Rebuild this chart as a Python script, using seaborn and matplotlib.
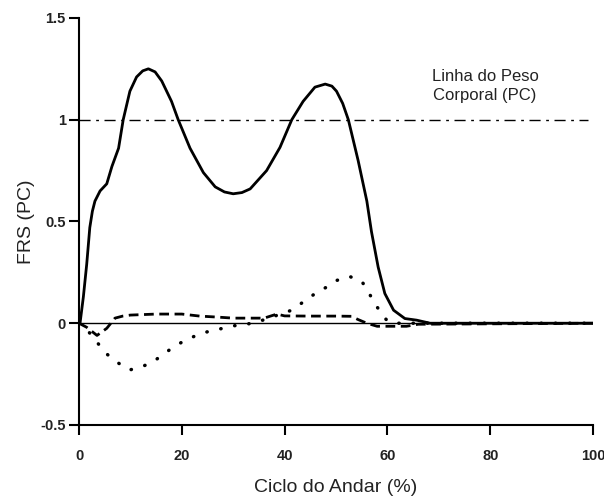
import numpy as np
import pandas as pd
import matplotlib
matplotlib.use("Agg")
import matplotlib.pyplot as plt
import seaborn as sns

# Vertical force (solid)
vert_x = [0, 0.2, 0.85, 1.5, 2.1, 2.6, 3.1, 4.1, 5.4, 6.4, 7.7, 8.6, 9.9, 11.2,
          12.4, 13.5, 14.8, 16.1, 18.0, 19.3, 21.6, 24.2, 26.5, 28.3, 30.0, 31.7,
          33.3, 36.5, 39.1, 41.4, 43.6, 45.9, 47.9, 49.2, 50.1, 51.3, 52.4, 54.3,
          56.0, 56.9, 58.2, 59.5, 61.2, 63.4, 65.7, 68.3, 100.0]
vert_y = [0, 0.0, 0.13, 0.29, 0.47, 0.55, 0.60, 0.65, 0.685, 0.77, 0.86, 1.0,
          1.14, 1.21, 1.24, 1.25, 1.235, 1.19, 1.09, 1.0, 0.86, 0.74, 0.67, 0.645,
          0.636, 0.642, 0.66, 0.75, 0.864, 1.0, 1.09, 1.16, 1.175, 1.165, 1.14,
          1.08, 1.0, 0.80, 0.60, 0.45, 0.276, 0.146, 0.064, 0.023, 0.015,
          0.0, 0.0]

# Antero-posterior force (dotted)
ap_x = [0, 1.5, 3.4, 5.2, 7.3, 9.8, 11.9, 14.1, 16.4, 18.7, 21.0, 23.2, 25.5, 27.8,
        30.0, 32.6, 34.6, 37.0, 39.4, 41.4, 43.6, 45.9, 48.2, 50.1, 52.6, 55.0,
        56.3, 57.6, 59.0, 60.2, 62.0, 100.0]
ap_y = [0, -0.03, -0.09, -0.147, -0.19, -0.23, -0.216, -0.195, -0.153, -0.111,
        -0.08, -0.056, -0.038, -0.026, -0.013, -0.005, 0.006, 0.025, 0.047, 0.064,
        0.104, 0.145, 0.178, 0.21, 0.23, 0.207, 0.153, 0.096, 0.04, 0.006, 0.0, 0.0]

# Medio-lateral force (dashed)
ml_x = [0, 1.5, 3.5, 5.4, 7.0, 8.5, 10.0, 15.0, 20.0, 23.5, 27.0, 30.0, 36.0,
        38.5, 40.0, 45.0, 50.0, 53.0, 54.3, 56.0, 58.0, 63.7, 66.0, 100.0]
ml_y = [0, -0.02, -0.06, -0.025, 0.025, 0.035, 0.04, 0.045, 0.045, 0.035, 0.03,
        0.025, 0.025, 0.045, 0.036, 0.035, 0.035, 0.034, 0.018, 0.0, -0.015,
        -0.015, -0.005, 0.0]

body_weight = 1.0
x_ticks = [0, 20, 40, 60, 80, 100]
y_ticks = [-0.5, 0, 0.5, 1, 1.5]
y_tick_labels = ["-0.5", "0", "0.5", "1", "1.5"]

sns.set_style("ticks")
plt.rcParams['font.family'] = ['Liberation Sans', 'DejaVu Sans']

fig = plt.figure(figsize=(6.04, 4.97), dpi=100)
ax = fig.add_axes([0.1308, 0.1449, 0.851, 0.819])

# reference lines
ax.plot([0, 100], [0, 0], color="black", lw=1.0)
ax.plot([0, 99], [body_weight, body_weight], color="black", lw=1.0,
        linestyle=(0, (8, 4, 2, 4)))

sns.lineplot(x=vert_x, y=vert_y, ax=ax, color="black", lw=2.0, estimator=None, sort=False)
sns.lineplot(x=ml_x, y=ml_y, ax=ax, color="black", lw=2.0, estimator=None, sort=False,
             linestyle=(0, (3.5, 2)))
sns.lineplot(x=ap_x, y=ap_y, ax=ax, color="black", lw=2.5, estimator=None, sort=False,
             linestyle=(0, (0.1, 4.0)), dash_capstyle="round")

ax.text(79, 1.165, "Linha do Peso\nCorporal (PC)", ha="center", va="center",
        fontsize=12, color="#222222", linespacing=1.3)

ax.set_xlim(0, 100)
ax.set_ylim(-0.5, 1.5)
ax.set_xticks(x_ticks)
ax.set_yticks(y_ticks)
ax.set_yticklabels(y_tick_labels)
for lab in ax.get_xticklabels() + ax.get_yticklabels():
    lab.set_fontweight("bold")
    lab.set_fontsize(10.5)
    lab.set_color("#222222")

ax.tick_params(direction="out", length=7.5, width=1.5, color="black")
ax.tick_params(axis="x", pad=10)
ax.tick_params(axis="y", pad=2)
ax.spines["top"].set_visible(False)
ax.spines["right"].set_visible(False)
for s in ["left", "bottom"]:
    ax.spines[s].set_linewidth(1.5)
    ax.spines[s].set_color("black")

ax.set_xlabel("Ciclo do Andar (%)", fontsize=14, color="#222222", labelpad=11)
ax.set_ylabel("FRS (PC)", fontsize=14, color="#222222", labelpad=4)

fig.savefig("out.png", dpi=100)
